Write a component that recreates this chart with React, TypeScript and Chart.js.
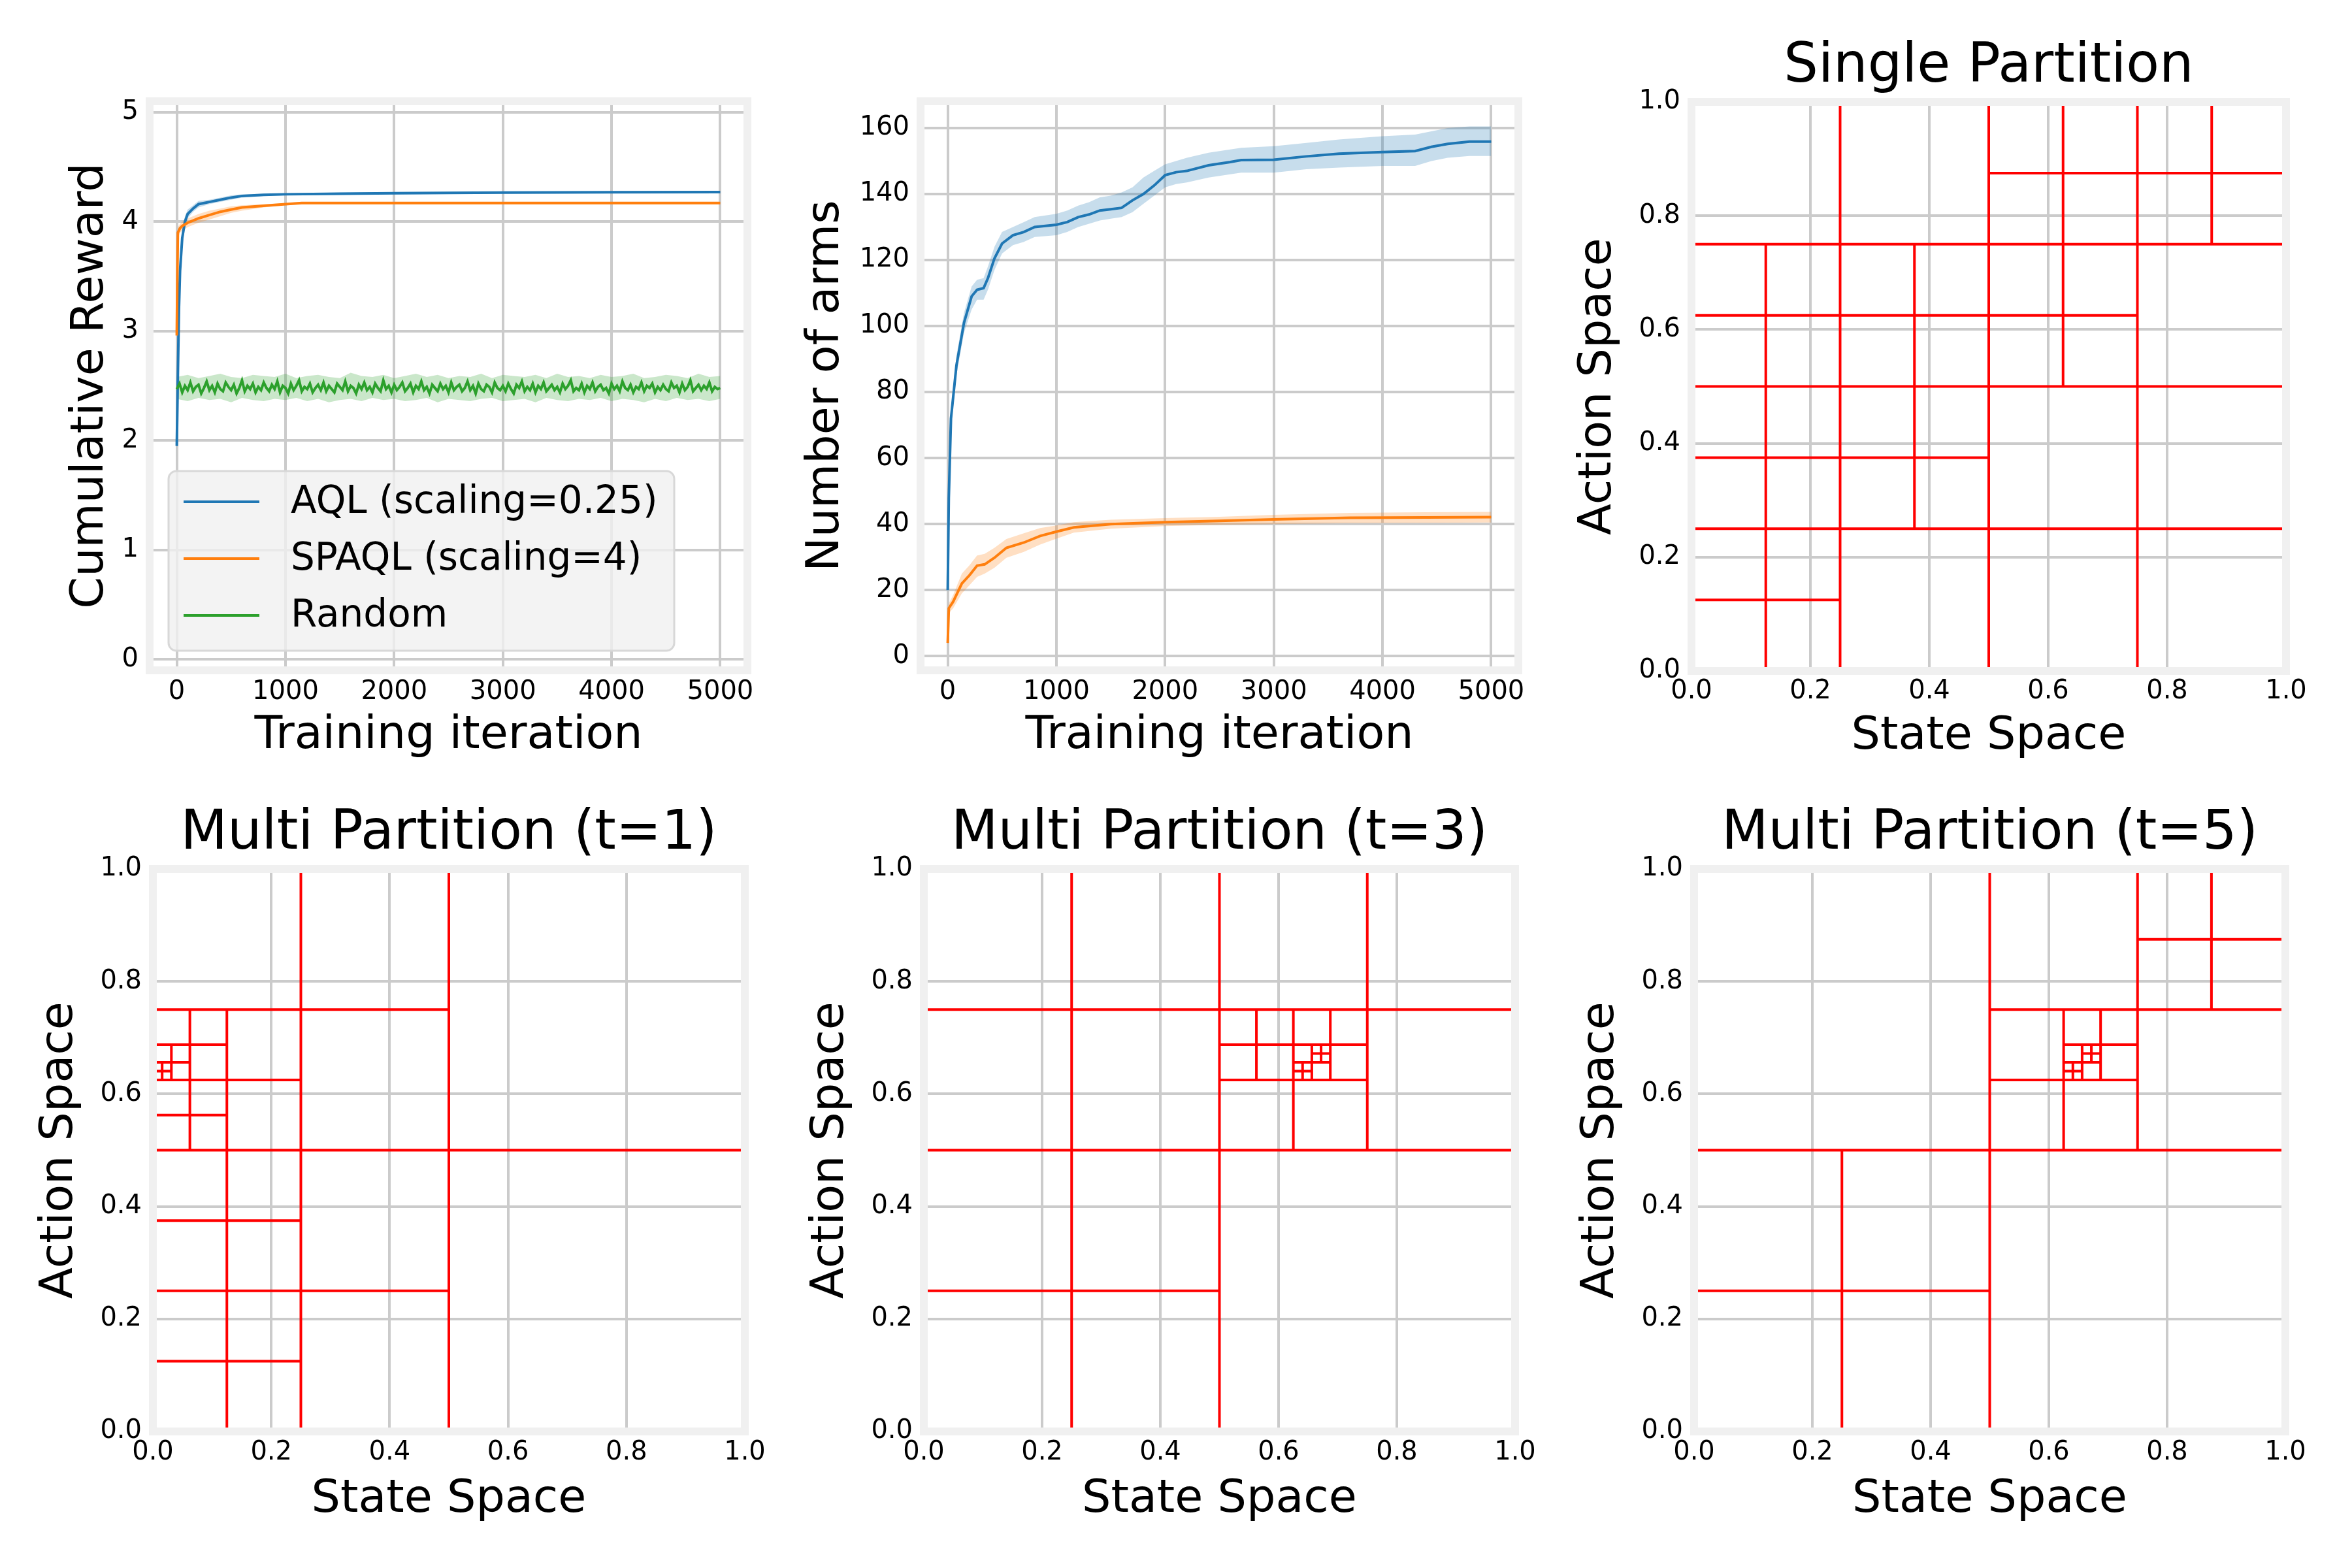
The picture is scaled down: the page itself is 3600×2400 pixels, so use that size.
import React, { useEffect, useRef } from 'react';
import { Chart, registerables } from 'chart.js';

Chart.register(...registerables);
Chart.defaults.font.family = 'DejaVu Sans';
Chart.defaults.color = '#000000';

// ---------------- data ----------------
const rewardXTicks = [0, 1000, 2000, 3000, 4000, 5000];
const rewardYTicks = [0, 1, 2, 3, 4, 5];
const armsYTicks = [0, 20, 40, 60, 80, 100, 120, 140, 160];
const partitionTicks = [0, 0.2, 0.4, 0.6, 0.8, 1.0];

const aqlRewardIter = [0, 10, 20, 30, 50, 75, 100, 150, 200, 300, 400, 500, 600, 800, 1000, 1500, 2000, 3000, 4000, 5000];
const aqlReward = [1.95, 2.6, 3.2, 3.55, 3.85, 4.0, 4.07, 4.12, 4.16, 4.18, 4.2, 4.22, 4.235, 4.245, 4.25, 4.255, 4.26, 4.265, 4.268, 4.27];
const aqlRewardLo = [1.8, 2.45, 3.05, 3.45, 3.78, 3.95, 4.03, 4.09, 4.13, 4.16, 4.18, 4.2, 4.22, 4.235, 4.24, 4.245, 4.25, 4.255, 4.258, 4.26];
const aqlRewardHi = [2.05, 2.75, 3.35, 3.65, 3.92, 4.05, 4.11, 4.15, 4.19, 4.2, 4.22, 4.24, 4.25, 4.255, 4.26, 4.265, 4.27, 4.275, 4.278, 4.28];

const spaqlRewardIter = [0, 5, 10, 30, 50, 100, 150, 200, 300, 400, 500, 600, 800, 1000, 1150, 2000, 3000, 5000];
const spaqlReward = [2.96, 3.5, 3.9, 3.94, 3.96, 3.99, 4.01, 4.03, 4.06, 4.09, 4.11, 4.13, 4.145, 4.16, 4.17, 4.17, 4.17, 4.17];
const spaqlRewardLo = [2.9, 3.45, 3.85, 3.9, 3.92, 3.95, 3.97, 3.99, 4.02, 4.05, 4.08, 4.1, 4.13, 4.15, 4.16, 4.16, 4.16, 4.16];
const spaqlRewardHi = [3.02, 3.55, 3.95, 3.98, 4.0, 4.03, 4.05, 4.07, 4.1, 4.12, 4.14, 4.15, 4.16, 4.17, 4.18, 4.18, 4.18, 4.18];

// random policy: one value every 25 iterations (0..5000)
const randomStep = 25;
const randomReward = [
  2.47, 2.52, 2.44, 2.50, 2.46, 2.53, 2.45, 2.49, 2.51, 2.43, 2.48, 2.54, 2.46, 2.50, 2.44, 2.52, 2.47, 2.45, 2.53, 2.49,
  2.46, 2.51, 2.43, 2.48, 2.55, 2.45, 2.50, 2.47, 2.52, 2.44, 2.49, 2.46, 2.53, 2.48, 2.45, 2.51, 2.47, 2.54, 2.44, 2.50,
  2.48, 2.43, 2.52, 2.46, 2.50, 2.55, 2.45, 2.49, 2.47, 2.52, 2.44, 2.48, 2.51, 2.46, 2.53, 2.45, 2.50, 2.47, 2.44, 2.52,
  2.49, 2.46, 2.54, 2.45, 2.50, 2.48, 2.43, 2.51, 2.47, 2.53, 2.46, 2.49, 2.44, 2.52, 2.48, 2.45, 2.55, 2.47, 2.50, 2.44,
  2.51, 2.46, 2.49, 2.53, 2.45, 2.48, 2.52, 2.44, 2.50, 2.47, 2.54, 2.46, 2.49, 2.43, 2.51, 2.48, 2.45, 2.52, 2.47, 2.50,
  2.44, 2.53, 2.46, 2.49, 2.51, 2.45, 2.48, 2.54, 2.46, 2.50, 2.43, 2.52, 2.47, 2.45, 2.51, 2.49, 2.44, 2.53, 2.48, 2.46,
  2.50, 2.45, 2.52, 2.47, 2.43, 2.51, 2.48, 2.54, 2.45, 2.49, 2.46, 2.52, 2.44, 2.50, 2.47, 2.53, 2.45, 2.48, 2.51, 2.46,
  2.49, 2.44, 2.52, 2.47, 2.50, 2.55, 2.45, 2.48, 2.46, 2.52, 2.44, 2.50, 2.47, 2.53, 2.45, 2.49, 2.51, 2.46, 2.48, 2.43,
  2.52, 2.47, 2.50, 2.45, 2.54, 2.48, 2.46, 2.51, 2.44, 2.49, 2.47, 2.53, 2.45, 2.50, 2.48, 2.52, 2.44, 2.49, 2.46, 2.51,
  2.47, 2.45, 2.53, 2.48, 2.50, 2.44, 2.52, 2.46, 2.49, 2.55, 2.45, 2.48, 2.51, 2.46, 2.50, 2.47, 2.53, 2.45, 2.49, 2.47,
  2.48,
];
// random band: one value every 100 iterations
const randomBandStep = 100;
const randomRewardHi = [
  2.58, 2.60, 2.57, 2.59, 2.61, 2.58, 2.57, 2.60, 2.59, 2.58, 2.61, 2.57, 2.59, 2.60, 2.58, 2.57, 2.62, 2.59, 2.58, 2.60,
  2.57, 2.59, 2.61, 2.58, 2.60, 2.57, 2.59, 2.58, 2.61, 2.57, 2.60, 2.59, 2.58, 2.60, 2.57, 2.61, 2.58, 2.59, 2.57, 2.60,
  2.58, 2.59, 2.61, 2.57, 2.58, 2.60, 2.59, 2.57, 2.61, 2.58, 2.59,
];
const randomRewardLo = [
  2.38, 2.36, 2.39, 2.37, 2.38, 2.35, 2.39, 2.37, 2.36, 2.38, 2.37, 2.39, 2.36, 2.38, 2.35, 2.37, 2.38, 2.36, 2.39, 2.37,
  2.38, 2.36, 2.37, 2.39, 2.35, 2.38, 2.37, 2.36, 2.38, 2.39, 2.36, 2.37, 2.38, 2.35, 2.39, 2.37, 2.36, 2.38, 2.37, 2.39,
  2.36, 2.38, 2.37, 2.35, 2.38, 2.36, 2.39, 2.37, 2.38, 2.36, 2.38,
];

const aqlArmsIter = [0, 10, 30, 80, 150, 220, 270, 330, 370, 430, 500, 600, 700, 800, 1000, 1100, 1200, 1300, 1400, 1500, 1600, 1700, 1800, 1900, 2000, 2100, 2200, 2400, 2600, 2700, 3000, 3300, 3600, 4000, 4300, 4450, 4600, 4800, 5000];
const aqlArms = [20, 48, 72, 88, 101, 109, 111, 111.5, 114.5, 120.5, 125, 127.5, 128.5, 130, 130.7, 131.5, 133, 133.8, 135, 135.4, 135.8, 138.1, 140, 142.6, 145.7, 146.6, 147, 148.7, 149.7, 150.3, 150.4, 151.4, 152.2, 152.7, 153, 154.3, 155.2, 155.9, 155.9];
const aqlArmsLo = [19, 45, 69, 85, 98, 105, 108, 108, 111, 117, 122, 124.5, 125.5, 127, 127.5, 128.5, 130, 131, 132, 132.5, 133, 134.5, 137, 139.5, 142, 143, 143.5, 145, 146, 146.5, 146.5, 147.5, 148, 148.5, 148.5, 150, 151, 151.5, 151.5];
const aqlArmsHi = [21, 51, 75, 91, 104, 112, 114, 114.5, 118, 124, 128.5, 130, 131.5, 133, 134, 135, 136.5, 137.5, 139, 139.5, 140.5, 142, 145, 147, 149, 150, 151, 152.5, 153.5, 154, 154.5, 155.5, 156.5, 157.5, 158, 159, 160, 160.5, 160.5];

const spaqlArmsIter = [0, 10, 50, 130, 200, 270, 340, 430, 540, 700, 850, 1000, 1160, 1500, 2000, 2500, 3000, 3700, 4400, 5000];
const spaqlArms = [4, 14.5, 16.5, 22, 24.5, 27.4, 27.8, 29.8, 32.8, 34.4, 36.4, 37.7, 39, 40, 40.6, 41, 41.4, 41.9, 42, 42.1];
const spaqlArmsLo = [3.5, 13, 14.5, 19, 21.5, 24, 25, 26.8, 29.8, 31.6, 33.8, 35.6, 37.4, 38.6, 39.4, 39.8, 40, 40.3, 40.4, 40.5];
const spaqlArmsHi = [4.5, 16, 18.5, 25, 27.5, 30.5, 31, 32.8, 35.5, 37.2, 38.8, 39.6, 40.6, 41.3, 41.8, 42.2, 42.8, 43.4, 43.6, 43.7];

// split nodes of the partitions: [x0, y0, size] (each is divided into 4 quadrants)
const singleSplits = [
  [0, 0, 1],
  [0, 0, 0.5], [0.5, 0, 0.5], [0, 0.5, 0.5], [0.5, 0.5, 0.5],
  [0, 0, 0.25], [0, 0.25, 0.25], [0, 0.5, 0.25], [0.25, 0.25, 0.25], [0.25, 0.5, 0.25],
  [0.5, 0.5, 0.25], [0.5, 0.75, 0.25], [0.75, 0.75, 0.25],
];
const multiSplitsT1 = [
  [0, 0, 1], [0, 0, 0.5], [0, 0.5, 0.5], [0, 0, 0.25], [0, 0.25, 0.25], [0, 0.5, 0.25],
  [0, 0.5, 0.125], [0, 0.625, 0.125], [0, 0.625, 0.0625], [0, 0.625, 0.03125],
];
const multiSplitsT3 = [
  [0, 0, 1], [0, 0, 0.5], [0, 0.5, 0.5], [0.5, 0.5, 0.5], [0.5, 0.5, 0.25],
  [0.5, 0.625, 0.125], [0.625, 0.625, 0.125], [0.625, 0.625, 0.0625],
  [0.625, 0.625, 0.03125], [0.65625, 0.65625, 0.03125],
];
const multiSplitsT5 = [
  [0, 0, 1], [0, 0, 0.5], [0.5, 0.5, 0.5], [0.5, 0.5, 0.25], [0.75, 0.75, 0.25],
  [0.625, 0.625, 0.125], [0.625, 0.625, 0.0625], [0.625, 0.625, 0.03125], [0.65625, 0.65625, 0.03125],
];

// ---------------- styling / layout ----------------
const C0 = '#1f77b4';
const C1 = '#ff7f0e';
const C2 = '#2ca02c';
const GRID = '#cbcbcb';
const FRAME = '#f0f0f0';
const ML = 220; // y axis box width
const MR = 60;
const MT = 160;
const MB = 170; // x axis box height

type Area = { L: number; T: number; R: number; B: number };

const pts = (xs: number[], ys: number[]) => xs.map((x, i) => ({ x, y: ys[i] }));
const stepPts = (step: number, ys: number[]) => ys.map((y, i) => ({ x: i * step, y }));

function splitSegments(splits: number[][]) {
  const out: { x: number; y: number | null }[] = [];
  splits.forEach(([x0, y0, s]) => {
    const cx = x0 + s / 2;
    const cy = y0 + s / 2;
    out.push({ x: cx, y: y0 }, { x: cx, y: y0 + s }, { x: cx, y: null });
    out.push({ x: x0, y: cy }, { x: x0 + s, y: cy }, { x: x0 + s, y: null });
  });
  return out;
}

const framePlugin = {
  id: 'axesFrame',
  afterDatasetsDraw(chart: any) {
    const { ctx, chartArea } = chart;
    ctx.save();
    ctx.strokeStyle = FRAME;
    ctx.lineWidth = 12;
    ctx.strokeRect(chartArea.left, chartArea.top, chartArea.right - chartArea.left, chartArea.bottom - chartArea.top);
    ctx.restore();
  },
};

const legendPlugin = {
  id: 'boxLegend',
  afterDraw(chart: any, _args: any, opts: any) {
    if (!opts || !opts.show) return;
    const { ctx, chartArea } = chart;
    const items = chart.data.datasets.filter((d: any) => d.label);
    const w = 774;
    const h = 275;
    const x = chartArea.left + 29;
    const y = chartArea.bottom - 30 - h;
    const r = 12;
    ctx.save();
    ctx.beginPath();
    ctx.moveTo(x + r, y);
    ctx.arcTo(x + w, y, x + w, y + h, r);
    ctx.arcTo(x + w, y + h, x, y + h, r);
    ctx.arcTo(x, y + h, x, y, r);
    ctx.arcTo(x, y, x + w, y, r);
    ctx.closePath();
    ctx.fillStyle = 'rgba(240,240,240,0.8)';
    ctx.fill();
    ctx.strokeStyle = '#d8d8d8';
    ctx.lineWidth = 3;
    ctx.stroke();
    ctx.font = '58px "DejaVu Sans"';
    ctx.textBaseline = 'middle';
    ctx.textAlign = 'left';
    items.forEach((d: any, i: number) => {
      const cy = y + 47 + i * 87;
      ctx.strokeStyle = d.borderColor;
      ctx.lineWidth = 4;
      ctx.beginPath();
      ctx.moveTo(x + 23, cy);
      ctx.lineTo(x + 139, cy);
      ctx.stroke();
      ctx.fillStyle = '#000000';
      ctx.fillText(d.label, x + 187, cy + 2);
    });
    ctx.restore();
  },
};

type PanelSpec = {
  key: string;
  area: Area;
  title?: string;
  legend?: boolean;
  datasets: any[];
  xMin: number;
  xMax: number;
  yMin: number;
  yMax: number;
  xTicks: number[];
  yTicks: number[];
  fmt: (v: number) => string;
  xLabel: string;
  yLabel: string;
  yTitlePad: number;
  xTitlePad: number;
  xTickPad: number;
};

function meanLine(label: string, color: string, data: any[], order: number) {
  return { label, data, borderColor: color, backgroundColor: color, borderWidth: 4, pointRadius: 0, fill: false, order, tension: 0 };
}
function bandLine(data: any[], fillColor: string | null) {
  return {
    label: '',
    data,
    borderWidth: 0,
    borderColor: 'rgba(0,0,0,0)',
    pointRadius: 0,
    backgroundColor: fillColor || 'rgba(0,0,0,0)',
    fill: fillColor ? '+1' : false,
    order: 10,
  };
}
function partitionSet(splits: number[][]) {
  return {
    label: '',
    data: splitSegments(splits),
    borderColor: '#ff0000',
    borderWidth: 4,
    pointRadius: 0,
    fill: false,
    spanGaps: false,
    tension: 0,
  };
}

const partitionCommon = {
  xMin: 0,
  xMax: 1,
  yMin: 0,
  yMax: 1,
  xTicks: partitionTicks,
  yTicks: partitionTicks,
  fmt: (v: number) => v.toFixed(1),
  xLabel: 'State Space',
  yLabel: 'Action Space',
  yTitlePad: 36,
};

const panels: PanelSpec[] = [
  {
    key: 'reward',
    area: { L: 229, T: 155, R: 1144, B: 1026 },
    legend: true,
    datasets: [
      meanLine('AQL (scaling=0.25)', C0, pts(aqlRewardIter, aqlReward), 3),
      meanLine('SPAQL (scaling=4)', C1, pts(spaqlRewardIter, spaqlReward), 2),
      meanLine('Random', C2, stepPts(randomStep, randomReward), 1),
      bandLine(pts(aqlRewardIter, aqlRewardHi), 'rgba(31,119,180,0.25)'),
      bandLine(pts(aqlRewardIter, aqlRewardLo), null),
      bandLine(pts(spaqlRewardIter, spaqlRewardHi), 'rgba(255,127,14,0.25)'),
      bandLine(pts(spaqlRewardIter, spaqlRewardLo), null),
      bandLine(stepPts(randomBandStep, randomRewardHi), 'rgba(44,160,44,0.25)'),
      bandLine(stepPts(randomBandStep, randomRewardLo), null),
    ],
    xMin: -250,
    xMax: 5250,
    yMin: -0.1,
    yMax: 5.1,
    xTicks: rewardXTicks,
    yTicks: rewardYTicks,
    fmt: (v: number) => String(v),
    xLabel: 'Training iteration',
    yLabel: 'Cumulative Reward',
    yTitlePad: 88,
    xTitlePad: 27,
    xTickPad: 10,
  },
  {
    key: 'arms',
    area: { L: 1409, T: 155, R: 2324, B: 1026 },
    datasets: [
      meanLine('AQL (scaling=0.25)', C0, pts(aqlArmsIter, aqlArms), 2),
      meanLine('SPAQL (scaling=4)', C1, pts(spaqlArmsIter, spaqlArms), 1),
      bandLine(pts(aqlArmsIter, aqlArmsHi), 'rgba(31,119,180,0.25)'),
      bandLine(pts(aqlArmsIter, aqlArmsLo), null),
      bandLine(pts(spaqlArmsIter, spaqlArmsHi), 'rgba(255,127,14,0.25)'),
      bandLine(pts(spaqlArmsIter, spaqlArmsLo), null),
    ],
    xMin: -250,
    xMax: 5250,
    yMin: -4.3,
    yMax: 168.1,
    xTicks: rewardXTicks,
    yTicks: armsYTicks,
    fmt: (v: number) => String(v),
    xLabel: 'Training iteration',
    yLabel: 'Number of arms',
    yTitlePad: 34,
    xTitlePad: 27,
    xTickPad: 10,
  },
  {
    key: 'single',
    area: { L: 2589, T: 156, R: 3499, B: 1027 },
    title: 'Single Partition',
    datasets: [partitionSet(singleSplits)],
    ...partitionCommon,
    xTitlePad: 27,
    xTickPad: 8,
  },
  {
    key: 't1',
    area: { L: 234, T: 1330, R: 1140, B: 2191 },
    title: 'Multi Partition (t=1)',
    datasets: [partitionSet(multiSplitsT1)],
    ...partitionCommon,
    xTitlePad: 23,
    xTickPad: 9,
  },
  {
    key: 't3',
    area: { L: 1414, T: 1330, R: 2319, B: 2191 },
    title: 'Multi Partition (t=3)',
    datasets: [partitionSet(multiSplitsT3)],
    ...partitionCommon,
    xTitlePad: 23,
    xTickPad: 9,
  },
  {
    key: 't5',
    area: { L: 2593, T: 1330, R: 3498, B: 2191 },
    title: 'Multi Partition (t=5)',
    datasets: [partitionSet(multiSplitsT5)],
    ...partitionCommon,
    xTitlePad: 23,
    xTickPad: 9,
  },
];

function buildConfig(p: PanelSpec): any {
  const tickFont = { size: 40, family: 'DejaVu Sans' };
  const labelFont = { size: 70, family: 'DejaVu Sans' };
  return {
    type: 'line',
    data: { datasets: p.datasets },
    options: {
      responsive: false,
      animation: false,
      events: [],
      devicePixelRatio: 1,
      layout: { padding: { top: p.title ? MT - 99.6 - 3 : MT, right: MR, bottom: 0, left: 0 } },
      plugins: {
        legend: { display: false },
        tooltip: { enabled: false },
        title: p.title
          ? {
              display: true,
              fullSize: false,
              text: p.title,
              color: '#000',
              font: { size: 83, family: 'DejaVu Sans', weight: 'normal' },
              padding: { top: 0, bottom: 3 },
            }
          : { display: false },
        boxLegend: { show: !!p.legend },
      },
      scales: {
        x: {
          type: 'linear',
          min: p.xMin,
          max: p.xMax,
          afterBuildTicks: (s: any) => {
            s.ticks = p.xTicks.map((v) => ({ value: v }));
          },
          afterFit: (s: any) => {
            s.height = MB;
          },
          grid: { color: GRID, lineWidth: 4, drawTicks: false },
          border: { display: false },
          ticks: { font: tickFont, color: '#000', padding: p.xTickPad, autoSkip: false, maxRotation: 0, callback: (v: any) => p.fmt(Number(v)) },
          title: { display: true, text: p.xLabel, font: labelFont, color: '#000', padding: { top: 0, bottom: p.xTitlePad } },
        },
        y: {
          type: 'linear',
          min: p.yMin,
          max: p.yMax,
          afterBuildTicks: (s: any) => {
            s.ticks = p.yTicks.map((v) => ({ value: v }));
          },
          afterFit: (s: any) => {
            s.width = ML;
          },
          grid: { color: GRID, lineWidth: 4, drawTicks: false },
          border: { display: false },
          ticks: { font: tickFont, color: '#000', padding: 17, autoSkip: false, callback: (v: any) => p.fmt(Number(v)) },
          title: { display: true, text: p.yLabel, font: labelFont, color: '#000', padding: { top: p.yTitlePad, bottom: 0 } },
        },
      },
    },
    plugins: [framePlugin, legendPlugin],
  };
}

function Panel({ spec }: { spec: PanelSpec }) {
  const ref = useRef<HTMLCanvasElement>(null);
  const { L, T, R, B } = spec.area;
  const left = L - ML;
  const top = T - MT;
  const width = ML + (R - L) + MR;
  const height = MT + (B - T) + MB;
  useEffect(() => {
    if (!ref.current) return;
    const chart = new Chart(ref.current, buildConfig(spec));
    return () => chart.destroy();
  }, []);
  return (
    <canvas
      ref={ref}
      width={width}
      height={height}
      style={{ position: 'absolute', left, top, width, height }}
    />
  );
}

export default function App() {
  return (
    <div style={{ position: 'absolute', left: 0, top: 0, width: 3600, height: 2400, background: '#ffffff', overflow: 'hidden' }}>
      {panels.map((p) => (
        <Panel key={p.key} spec={p} />
      ))}
    </div>
  );
}
